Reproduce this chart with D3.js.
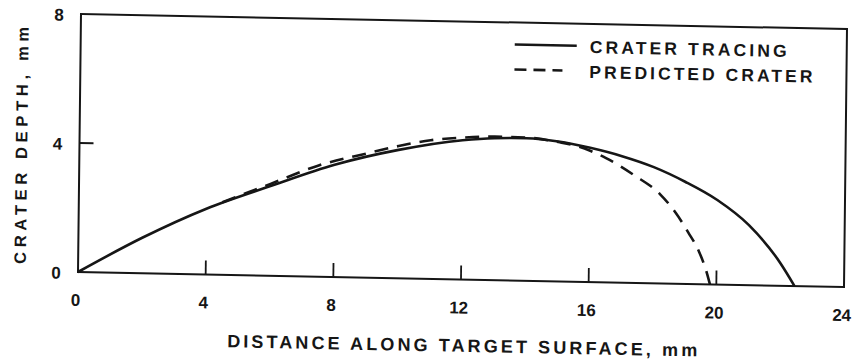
<!DOCTYPE html>
<html><head><meta charset="utf-8">
<script src="https://cdn.jsdelivr.net/npm/d3@7"></script>
<style>
html,body{margin:0;padding:0;background:#fff;}
text{font-family:"Liberation Sans",Arial,Helvetica,sans-serif;font-weight:bold;fill:#161616;}
</style></head>
<body><svg id="c" width="857" height="364"></svg>
<script>
// Data (mm)
const tracingX = [0, 2, 4, 6, 8, 10, 12, 13, 14, 15, 16, 17, 18, 19, 20, 21, 22, 22.45];
const tracingY = [0, 1.1, 2.04, 2.78, 3.48, 3.98, 4.32, 4.4, 4.42, 4.34, 4.16, 3.92, 3.6, 3.16, 2.62, 1.86, 0.7, 0];
const predictedX = [4.5, 6, 7.5, 9, 10, 11, 12, 13, 14, 15, 15.5, 16, 16.5, 17.4, 18.2, 18.7, 19.1, 19.45, 19.7, 19.8];
const predictedY = [2.25, 2.85, 3.45, 3.85, 4.1, 4.3, 4.4, 4.45, 4.44, 4.32, 4.23, 4.07, 3.85, 3.33, 2.77, 2.2, 1.6, 1.0, 0.35, 0];
const xTicks = [0, 4, 8, 12, 16, 20, 24];
const yTicks = [0, 4, 8];
const legendLabels = ["CRATER TRACING", "PREDICTED CRATER"];
const xTitle = "DISTANCE ALONG TARGET SURFACE, mm";
const yTitle = "CRATER DEPTH, mm";

const W = 766, H = 258;
const ink = "#161616";
const svg = d3.select("#c");
// slight scan skew of the original figure
const root = svg.append("g").attr("transform", `matrix(1,0.0196,-0.0116,1,78,272)`);
const g = root.append("g").attr("transform", `translate(0,${-H})`);

const x = d3.scaleLinear().domain([0, 24]).range([0, W]);
const y = d3.scaleLinear().domain([0, 8]).range([H, 0]);

// frame
g.append("rect").attr("x", 0).attr("y", 0).attr("width", W).attr("height", H)
  .attr("fill", "none").attr("stroke", ink).attr("stroke-width", 2);

// inner ticks
g.selectAll(".xt").data(xTicks.filter(d => d > 0 && d < 24)).enter().append("line")
  .attr("x1", d => x(d)).attr("x2", d => x(d)).attr("y1", H).attr("y2", H - 14)
  .attr("stroke", ink).attr("stroke-width", 1.8);
g.selectAll(".yt").data(yTicks.filter(d => d > 0 && d < 8)).enter().append("line")
  .attr("y1", d => y(d)).attr("y2", d => y(d)).attr("x1", 0).attr("x2", 14)
  .attr("stroke", ink).attr("stroke-width", 1.8);

// tick labels
g.selectAll(".xl").data(xTicks).enter().append("text")
  .attr("x", d => x(d) - 2).attr("y", H + 28).attr("dy", "0.35em")
  .attr("text-anchor", "middle").attr("font-size", 17).text(d => d);
g.selectAll(".yl").data(yTicks).enter().append("text")
  .attr("x", -22).attr("y", d => y(d) + 1).attr("dy", "0.35em")
  .attr("text-anchor", "middle").attr("font-size", 17).text(d => d);

// axis titles
g.append("text").attr("x", 150).attr("y", H + 66).attr("dy", "0.35em")
  .attr("font-size", 18).attr("textLength", 470).attr("lengthAdjust", "spacing").text(xTitle);
g.append("text").attr("transform", `translate(-58,133) rotate(-90)`)
  .attr("x", -118).attr("y", 0).attr("dy", "0.35em")
  .attr("font-size", 16.5).attr("textLength", 237).attr("lengthAdjust", "spacing").text(yTitle);

// curves
const line = d3.line().x(d => x(d[0])).y(d => y(d[1])).curve(d3.curveMonotoneX);
g.append("path").datum(tracingX.map((v, i) => [v, tracingY[i]]))
  .attr("d", line).attr("fill", "none").attr("stroke", ink).attr("stroke-width", 2.6);
g.append("path").datum(predictedX.map((v, i) => [v, predictedY[i]]))
  .attr("d", line).attr("fill", "none").attr("stroke", ink).attr("stroke-width", 2.6)
  .attr("stroke-dasharray", "14,9");

// legend
const lg = g.append("g");
lg.append("line").attr("x1", 434).attr("x2", 496).attr("y1", 22).attr("y2", 22)
  .attr("stroke", ink).attr("stroke-width", 2.6);
lg.append("line").attr("x1", 434).attr("x2", 482).attr("y1", 47).attr("y2", 47)
  .attr("stroke", ink).attr("stroke-width", 2.6).attr("stroke-dasharray", "12,7");
lg.append("text").attr("x", 509).attr("y", 23).attr("dy", "0.35em").attr("font-size", 17.5)
  .attr("textLength", 197).attr("lengthAdjust", "spacing").text(legendLabels[0]);
lg.append("text").attr("x", 509).attr("y", 48).attr("dy", "0.35em").attr("font-size", 17.5)
  .attr("textLength", 223).attr("lengthAdjust", "spacing").text(legendLabels[1]);
</script></body></html>
